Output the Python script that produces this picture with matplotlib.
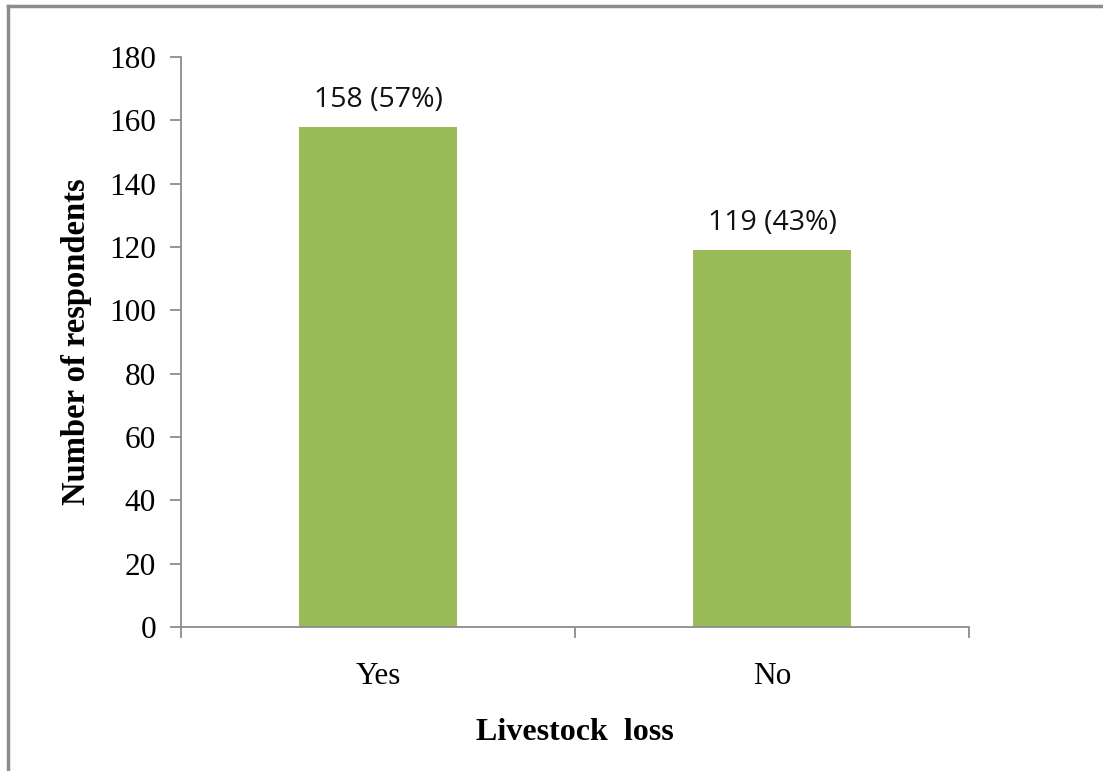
import matplotlib
matplotlib.use("Agg")
import matplotlib.pyplot as plt
from matplotlib.lines import Line2D

categories = ["Yes", "No"]
counts = [158, 119]
labels = ["158 (57%)", "119 (43%)"]

serif = ["Liberation Serif", "DejaVu Serif"]

fig = plt.figure(figsize=(11.03, 7.71), dpi=100)
ax = fig.add_axes([0.1641, 0.1868, 0.7144, 0.7393])

x = list(range(len(categories)))
bars = ax.bar(x, counts, width=0.4, color="#9BBB59", zorder=2)

for b, lab in zip(bars, labels):
    ax.text(b.get_x() + b.get_width() / 2, b.get_height() + 4, lab,
            ha="center", va="bottom", fontsize=20.5, family="Open Sans", color="#111111")

ax.set_xlim(-0.5, 1.5)
ax.set_ylim(0, 180)
ax.set_yticks(range(0, 181, 20))
ax.set_xticks([-0.5, 0.5, 1.5], minor=False)
ax.set_xticklabels(["", "", ""])
ax.set_xticks(x, minor=True)
ax.set_xticklabels(categories, minor=True)
ax.tick_params(axis="x", which="minor", length=0, pad=25, labelsize=22.5)
ax.tick_params(axis="x", which="major", length=8, width=1.3, color="#8c8c8c", direction="out")
ax.tick_params(axis="y", length=8, width=1.3, color="#8c8c8c", direction="out", labelsize=22.5, pad=10)
for t in ax.get_xticklabels(minor=True) + ax.get_yticklabels():
    t.set_family(serif)

for s in ["top", "right"]:
    ax.spines[s].set_visible(False)
for s in ["left", "bottom"]:
    ax.spines[s].set_color("#8c8c8c")
    ax.spines[s].set_linewidth(1.3)

ax.set_ylabel("Number of respondents", fontsize=23.5, fontweight="bold", family=serif, labelpad=12)
ax.set_xlabel("Livestock  loss", fontsize=23, fontweight="bold", family=serif, labelpad=20)

# outer frame (top and left edges only visible)
fig.add_artist(Line2D([8 / 1103, 8 / 1103], [0, 1 - 6 / 771], transform=fig.transFigure,
                      color="#8c8c8c", lw=2.5))
fig.add_artist(Line2D([8 / 1103, 1], [1 - 6 / 771, 1 - 6 / 771], transform=fig.transFigure,
                      color="#8c8c8c", lw=2.5))

fig.savefig("out.png", dpi=100)
